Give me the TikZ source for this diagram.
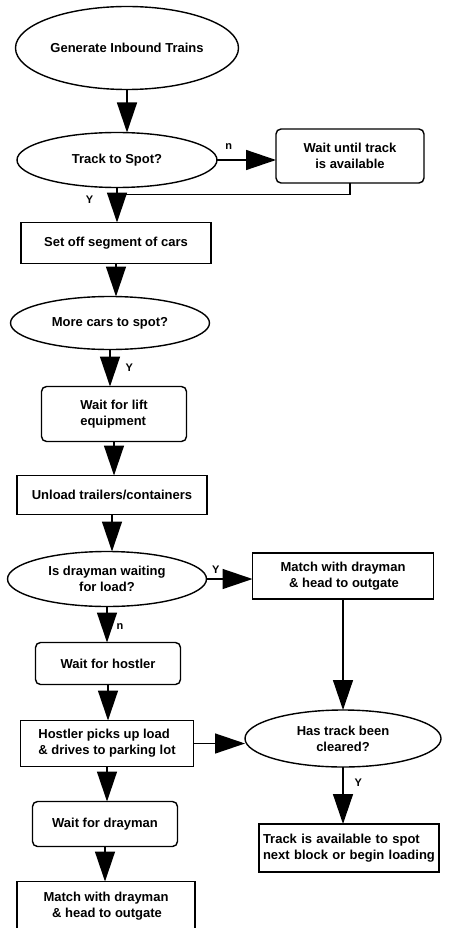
\documentclass[tikz,border=0pt]{standalone}
\usepackage{fontspec}
\setmainfont{Liberation Sans}
\usetikzlibrary{arrows.meta,positioning,shapes.geometric,calc}

\begin{document}
\begin{tikzpicture}[
  x=1pt, y=1pt,
  line width=1.4pt,
  node distance=35pt and 50pt,
  font=\fontsize{13}{16}\selectfont\bfseries,
  box/.style={draw, align=center, inner sep=2pt, outer sep=0pt},
  waitbox/.style={draw, rounded corners=5pt, align=center, inner sep=2pt, outer sep=0pt},
  query/.style={draw, ellipse, align=center, inner sep=0pt, outer sep=0pt},
  lbl/.style={font=\fontsize{11}{13}\selectfont\bfseries, inner sep=1pt},
  >={Triangle[length=30pt, width=20pt]}
]
\useasboundingbox (0,0) rectangle (449,-928);

\node[query, minimum width=223pt, minimum height=83pt] (gen) at (127,-48) {Generate Inbound Trains};
\node[query, minimum width=200pt, minimum height=55pt, below=43pt of gen, xshift=-10pt] (spot) {Track to Spot?};
\node[waitbox, minimum width=148pt, minimum height=54pt, right=59pt of spot, yshift=4pt] (trackwait) {Wait until track\\is available};
\node[box, minimum width=190pt, minimum height=41pt, below=35pt of spot, xshift=-1pt] (setoff) {Set off segment of cars};
\node[query, minimum width=199pt, minimum height=53pt, below=33pt of setoff, xshift=-6pt] (more) {More cars to spot?};
\node[waitbox, minimum width=145pt, minimum height=55pt, below=37pt of more, xshift=4pt, align=left] (lift) {Wait for lift\\equipment};
\node[box, minimum width=190pt, minimum height=39pt, below=34pt of lift, xshift=-2pt] (unload) {Unload trailers/containers};
\node[query, minimum width=199pt, minimum height=55pt, below=37pt of unload, xshift=-5pt] (dray) {Is drayman waiting\\for load?};
\node[box, minimum width=181pt, minimum height=46pt, right=46pt of dray, yshift=3pt] (matchup) {Match with drayman\\\,\& head to outgate};
\node[waitbox, minimum width=145pt, minimum height=42pt, below=36pt of dray, xshift=1pt] (hostwait) {Wait for hostler};
\node[box, minimum width=173pt, minimum height=46pt, below=36pt of hostwait, xshift=-1pt, align=left] (hostler) {Hostler picks up load\\\& drives to parking lot};
\node[query, minimum width=196pt, minimum height=57pt, below=111pt of matchup] (cleared) {Has track been\\cleared?};
\node[box, minimum width=180pt, minimum height=48pt, text width=172pt, inner sep=4pt, align=left, below=57pt of cleared, xshift=6pt] (free) {Track is available to spot\\next block or begin loading};
\node[waitbox, minimum width=145pt, minimum height=45pt, below=35pt of hostler, xshift=-2pt] (draywait) {Wait for drayman};
% bottom edge runs off the page, as in the scan
\node[box, minimum width=178pt, minimum height=50pt, below=35pt of draywait, xshift=1pt] (matchlow) {Match with drayman\\\,\& head to outgate};

\coordinate (merge) at ([yshift=-7pt]spot.south);

\draw[->] (gen) -- (gen |- spot.north);
\draw[->] (spot) -- node[lbl, pos=0.2, above=9pt] {n} (spot -| trackwait.west);
\draw (trackwait.south) |- (merge);
\draw[->] (spot) -- node[lbl, pos=0.35, left=22pt] {Y} (spot |- setoff.north);
\draw[->] (setoff) -- (setoff |- more.north);
\draw[->] (more) -- node[lbl, pos=0.5, right=14pt] {Y} (more |- lift.north);
\draw[->] (lift) -- (lift |- unload.north);
\draw[->] (unload) -- (unload |- dray.north);
\draw[->] (dray) -- node[lbl, pos=0.2, above=4pt] {Y} (dray -| matchup.west);
\draw[->] (dray) -- node[lbl, pos=0.55, right=8pt] {n} (dray |- hostwait.north);
\draw[->] (matchup) -- (matchup |- cleared.north);
\draw[->] (hostwait) -- (hostwait |- hostler.north);
\draw[->] (hostler) -- (hostler -| cleared.west);
\draw[->] (cleared) -- node[lbl, pos=0.28, right=10pt] {Y} (cleared |- free.north);
\draw[->] (hostler) -- (hostler |- draywait.north);
\draw[->] (draywait) -- (draywait |- matchlow.north);

\end{tikzpicture}
\end{document}
